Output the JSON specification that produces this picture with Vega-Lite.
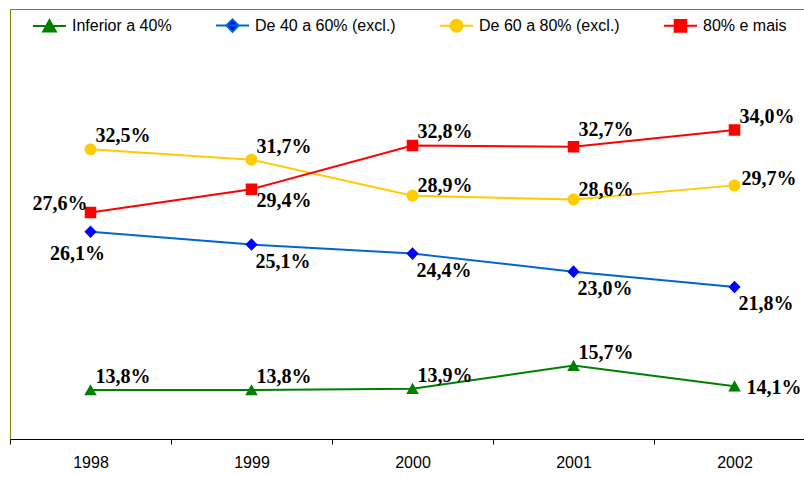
{
  "$schema": "https://vega.github.io/schema/vega-lite/v6.json",
  "width": 805,
  "height": 430,
  "autosize": {"type": "none"},
  "padding": {"left": 10, "top": 9, "right": 0, "bottom": 38},
  "background": "white",
  "config": {"view": {"stroke": "#808000", "strokeWidth": 1}, "font": "Liberation Sans"},
  "data": {"values": [
    {"ano": "1998", "serie": "Inferior a 40%", "valor": 13.8, "rotulo": "13,8%"},
    {"ano": "1999", "serie": "Inferior a 40%", "valor": 13.8, "rotulo": "13,8%"},
    {"ano": "2000", "serie": "Inferior a 40%", "valor": 13.9, "rotulo": "13,9%"},
    {"ano": "2001", "serie": "Inferior a 40%", "valor": 15.7, "rotulo": "15,7%"},
    {"ano": "2002", "serie": "Inferior a 40%", "valor": 14.1, "rotulo": "14,1%"},
    {"ano": "1998", "serie": "De 40 a 60% (excl.)", "valor": 26.1, "rotulo": "26,1%"},
    {"ano": "1999", "serie": "De 40 a 60% (excl.)", "valor": 25.1, "rotulo": "25,1%"},
    {"ano": "2000", "serie": "De 40 a 60% (excl.)", "valor": 24.4, "rotulo": "24,4%"},
    {"ano": "2001", "serie": "De 40 a 60% (excl.)", "valor": 23.0, "rotulo": "23,0%"},
    {"ano": "2002", "serie": "De 40 a 60% (excl.)", "valor": 21.8, "rotulo": "21,8%"},
    {"ano": "1998", "serie": "De 60 a 80% (excl.)", "valor": 32.5, "rotulo": "32,5%"},
    {"ano": "1999", "serie": "De 60 a 80% (excl.)", "valor": 31.7, "rotulo": "31,7%"},
    {"ano": "2000", "serie": "De 60 a 80% (excl.)", "valor": 28.9, "rotulo": "28,9%"},
    {"ano": "2001", "serie": "De 60 a 80% (excl.)", "valor": 28.6, "rotulo": "28,6%"},
    {"ano": "2002", "serie": "De 60 a 80% (excl.)", "valor": 29.7, "rotulo": "29,7%"},
    {"ano": "1998", "serie": "80% e mais", "valor": 27.6, "rotulo": "27,6%"},
    {"ano": "1999", "serie": "80% e mais", "valor": 29.4, "rotulo": "29,4%"},
    {"ano": "2000", "serie": "80% e mais", "valor": 32.8, "rotulo": "32,8%"},
    {"ano": "2001", "serie": "80% e mais", "valor": 32.7, "rotulo": "32,7%"},
    {"ano": "2002", "serie": "80% e mais", "valor": 34.0, "rotulo": "34,0%"}
  ]},
  "encoding": {
    "x": {"field": "ano", "type": "ordinal",
      "scale": {"type": "band", "paddingInner": 0, "paddingOuter": 0},
      "axis": {"title": null, "labelAngle": 0, "tickBand": "extent", "domainColor": "black", "tickColor": "black", "tickSize": 5, "labelFont": "Liberation Sans", "labelFontSize": 16, "labelColor": "black", "labelPadding": 10, "grid": false}},
    "y": {"field": "valor", "type": "quantitative", "scale": {"domain": [10, 43.4], "zero": false, "nice": false}, "axis": null}
  },
  "layer": [
    {
      "mark": {"type": "line", "strokeWidth": 2},
      "encoding": {
        "stroke": {"field": "serie", "type": "nominal",
          "scale": {"domain": ["Inferior a 40%", "De 40 a 60% (excl.)", "De 60 a 80% (excl.)", "80% e mais"], "range": ["#008000", "#0066CC", "#FFCC00", "#FF0000"]},
          "legend": {"orient": "none", "direction": "horizontal", "legendX": 22, "legendY": -1, "padding": 0, "title": null, "symbolSize": 1089, "symbolStrokeWidth": 2, "labelFontSize": 16, "labelFont": "Liberation Sans", "labelColor": "black", "labelOffset": 5, "columnPadding": 40}}
      }
    },
    {
      "mark": {"type": "point", "filled": true, "opacity": 1, "size": 1089, "strokeWidth": 0},
      "encoding": {
        "fill": {"field": "serie", "type": "nominal",
          "scale": {"domain": ["Inferior a 40%", "De 40 a 60% (excl.)", "De 60 a 80% (excl.)", "80% e mais"], "range": ["#008000", "#0000FF", "#FFCC00", "#FF0000"]},
          "legend": {"orient": "none", "direction": "horizontal", "legendX": 22, "legendY": -1, "padding": 0, "title": null, "symbolSize": 1089, "symbolStrokeWidth": 2, "labelFontSize": 16, "labelFont": "Liberation Sans", "labelColor": "black", "labelOffset": 5, "columnPadding": 40}},
        "shape": {"field": "serie", "type": "nominal",
          "scale": {"domain": ["Inferior a 40%", "De 40 a 60% (excl.)", "De 60 a 80% (excl.)", "80% e mais"],
            "range": ["M-1,0H1M0,-0.36L0.38,0.32L-0.38,0.32Z", "M-1,0H1M0,-0.38L0.37,0L0,0.38L-0.37,0Z", "M-1,0H1M0.36,0A0.36,0.36,0,1,1,-0.36,0A0.36,0.36,0,1,1,0.36,0Z", "M-1,0H1M-0.35,-0.35H0.35V0.35H-0.35Z"]},
          "legend": {"orient": "none", "direction": "horizontal", "legendX": 22, "legendY": -1, "padding": 0, "title": null, "symbolSize": 1089, "symbolStrokeWidth": 2, "labelFontSize": 16, "labelFont": "Liberation Sans", "labelColor": "black", "labelOffset": 5, "columnPadding": 40}}
      }
    },
    {
      "transform": [{"filter": "indexof(['Inferior a 40%|1998','Inferior a 40%|1999','Inferior a 40%|2000','Inferior a 40%|2001','De 60 a 80% (excl.)|1998','De 60 a 80% (excl.)|1999','80% e mais|2000','80% e mais|2002'], datum.serie + '|' + datum.ano) >= 0"}],
      "mark": {"type": "text", "align": "left", "baseline": "middle", "dx": 5, "dy": -13, "font": "Liberation Serif", "fontWeight": "bold", "fontSize": 20, "color": "black"},
      "encoding": {"text": {"field": "rotulo"}}
    },
    {
      "transform": [{"filter": "datum.serie == '80% e mais' && datum.ano == '2001'"}],
      "mark": {"type": "text", "align": "left", "baseline": "middle", "dx": 5, "dy": -17, "font": "Liberation Serif", "fontWeight": "bold", "fontSize": 20, "color": "black"},
      "encoding": {"text": {"field": "rotulo"}}
    },
    {
      "transform": [{"filter": "datum.serie == 'De 60 a 80% (excl.)' && (datum.ano == '2000' || datum.ano == '2001')"}],
      "mark": {"type": "text", "align": "left", "baseline": "middle", "dx": 5, "dy": -10, "font": "Liberation Serif", "fontWeight": "bold", "fontSize": 20, "color": "black"},
      "encoding": {"text": {"field": "rotulo"}}
    },
    {
      "transform": [{"filter": "datum.serie == 'De 60 a 80% (excl.)' && datum.ano == '2002'"}],
      "mark": {"type": "text", "align": "left", "baseline": "middle", "dx": 7, "dy": -6, "font": "Liberation Serif", "fontWeight": "bold", "fontSize": 20, "color": "black"},
      "encoding": {"text": {"field": "rotulo"}}
    },
    {
      "transform": [{"filter": "datum.serie == 'Inferior a 40%' && datum.ano == '2002'"}],
      "mark": {"type": "text", "align": "left", "baseline": "middle", "dx": 12, "dy": 2, "font": "Liberation Serif", "fontWeight": "bold", "fontSize": 20, "color": "black"},
      "encoding": {"text": {"field": "rotulo"}}
    },
    {
      "transform": [{"filter": "datum.serie == 'De 40 a 60% (excl.)' && datum.ano != '1998'"}],
      "mark": {"type": "text", "align": "left", "baseline": "middle", "dx": 4, "dy": 17, "font": "Liberation Serif", "fontWeight": "bold", "fontSize": 20, "color": "black"},
      "encoding": {"text": {"field": "rotulo"}}
    },
    {
      "transform": [{"filter": "datum.serie == '80% e mais' && datum.ano == '1999'"}],
      "mark": {"type": "text", "align": "left", "baseline": "middle", "dx": 5, "dy": 12, "font": "Liberation Serif", "fontWeight": "bold", "fontSize": 20, "color": "black"},
      "encoding": {"text": {"field": "rotulo"}}
    },
    {
      "transform": [{"filter": "datum.serie == 'De 40 a 60% (excl.)' && datum.ano == '1998'"}],
      "mark": {"type": "text", "align": "center", "baseline": "middle", "dx": -13, "dy": 22, "font": "Liberation Serif", "fontWeight": "bold", "fontSize": 20, "color": "black"},
      "encoding": {"text": {"field": "rotulo"}}
    },
    {
      "transform": [{"filter": "datum.serie == '80% e mais' && datum.ano == '1998'"}],
      "mark": {"type": "text", "align": "right", "baseline": "middle", "dx": -3, "dy": -8, "font": "Liberation Serif", "fontWeight": "bold", "fontSize": 20, "color": "black"},
      "encoding": {"text": {"field": "rotulo"}}
    }
  ]
}
